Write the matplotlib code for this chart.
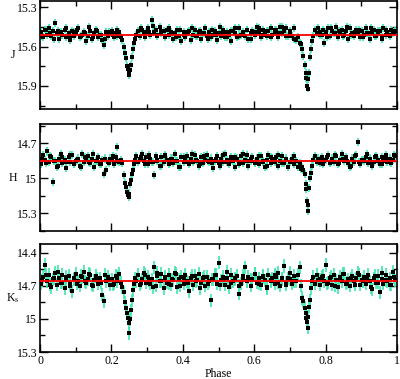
import numpy as np
import matplotlib
matplotlib.use("Agg")
import matplotlib.pyplot as plt
from matplotlib.ticker import MultipleLocator

plt.rcParams['font.family'] = ['Liberation Serif', 'DejaVu Serif']
plt.rcParams['mathtext.fontset'] = 'stix'

# ── phase grid (denser through the eclipses) ──
phase = [
    0.003, 0.008, 0.014, 0.019, 0.025, 0.030, 0.036, 0.041, 0.047,
    0.052, 0.058, 0.063, 0.069, 0.074, 0.080, 0.085, 0.091, 0.096,
    0.102, 0.107, 0.113, 0.118, 0.124, 0.129, 0.135, 0.140, 0.146,
    0.151, 0.157, 0.162, 0.168, 0.173, 0.179, 0.184, 0.190, 0.195,
    0.201, 0.206, 0.212, 0.217, 0.222, 0.227, 0.231, 0.235, 0.238, 0.241, 0.244, 0.246, 0.248,
    0.250, 0.252, 0.254, 0.257, 0.260, 0.263, 0.266, 0.270, 0.275, 0.280, 0.285, 0.291, 0.296,
    0.302, 0.307, 0.313, 0.318, 0.324, 0.329, 0.335, 0.340, 0.346,
    0.351, 0.357, 0.362, 0.368, 0.373, 0.379, 0.384, 0.390, 0.395,
    0.402, 0.407, 0.413, 0.418, 0.424, 0.429, 0.435, 0.440, 0.446,
    0.451, 0.457, 0.462, 0.468, 0.473, 0.479, 0.484, 0.490, 0.495,
    0.502, 0.507, 0.513, 0.518, 0.524, 0.529, 0.535, 0.540, 0.546,
    0.551, 0.557, 0.562, 0.568, 0.573, 0.579, 0.584, 0.590, 0.595,
    0.602, 0.607, 0.613, 0.618, 0.624, 0.629, 0.635, 0.640, 0.646,
    0.651, 0.657, 0.662, 0.668, 0.673, 0.679, 0.684, 0.690, 0.695,
    0.701, 0.706, 0.712, 0.717, 0.722, 0.727, 0.731, 0.735, 0.738, 0.741, 0.744, 0.746, 0.748,
    0.750, 0.752, 0.754, 0.757, 0.760, 0.763, 0.766, 0.770, 0.775, 0.780, 0.785, 0.791, 0.796,
    0.802, 0.807, 0.813, 0.818, 0.824, 0.829, 0.835, 0.840, 0.846,
    0.851, 0.857, 0.862, 0.868, 0.873, 0.879, 0.884, 0.890, 0.895,
    0.902, 0.907, 0.913, 0.918, 0.924, 0.929, 0.935, 0.940, 0.946,
    0.951, 0.957, 0.962, 0.968, 0.973, 0.979, 0.984, 0.990, 0.995,
]

mag_J = [
    15.49, 15.53, 15.47, 15.51, 15.46, 15.52, 15.48, 15.42, 15.50,
    15.54, 15.49, 15.51, 15.47, 15.53, 15.50, 15.55, 15.48, 15.52,
    15.50, 15.46, 15.53, 15.51, 15.49, 15.56, 15.52, 15.48, 15.54,
    15.50, 15.47, 15.53, 15.51, 15.55, 15.59, 15.49, 15.52, 15.50,
    15.48, 15.53, 15.50, 15.52, 15.49, 15.53, 15.55, 15.60, 15.65, 15.69, 15.75, 15.77, 15.80,
    15.82, 15.78, 15.74, 15.68, 15.62, 15.57, 15.54, 15.51, 15.48, 15.52, 15.47, 15.50, 15.49,
    15.46, 15.51, 15.40, 15.49, 15.47, 15.52, 15.45, 15.50, 15.48,
    15.53, 15.47, 15.51, 15.49, 15.54, 15.50, 15.47, 15.52, 15.56,
    15.49, 15.53, 15.50, 15.48, 15.55, 15.51, 15.47, 15.52, 15.49,
    15.54, 15.50, 15.46, 15.52, 15.49, 15.53, 15.51, 15.48, 15.55,
    15.50, 15.52, 15.47, 15.53, 15.49, 15.51, 15.56, 15.48, 15.50,
    15.53, 15.46, 15.51, 15.49, 15.52, 15.47, 15.54, 15.50, 15.48,
    15.51, 15.45, 15.49, 15.53, 15.47, 15.50, 15.52, 15.48, 15.46,
    15.51, 15.49, 15.47, 15.53, 15.45, 15.50, 15.48, 15.46, 15.52,
    15.48, 15.52, 15.46, 15.55, 15.53, 15.57, 15.58, 15.62, 15.67, 15.74, 15.80, 15.84, 15.90,
    15.92, 15.85, 15.80, 15.68, 15.62, 15.56, 15.52, 15.47, 15.50, 15.46, 15.49, 15.51, 15.57,
    15.49, 15.46, 15.52, 15.48, 15.50, 15.45, 15.53, 15.49, 15.47,
    15.51, 15.48, 15.54, 15.46, 15.50, 15.52, 15.47, 15.49, 15.53,
    15.48, 15.51, 15.46, 15.50, 15.54, 15.49, 15.47, 15.52, 15.50,
    15.48, 15.53, 15.46, 15.51, 15.49, 15.52, 15.47, 15.50, 15.48,
]

mag_H = [
    14.88, 14.80, 14.84, 14.77, 14.86, 14.82, 15.03, 14.85, 14.90,
    14.83, 14.79, 14.87, 14.84, 14.91, 14.82, 14.86, 14.80, 14.88,
    14.85, 14.83, 14.89, 14.79, 14.86, 14.84, 14.81, 14.87, 14.83,
    14.90, 14.85, 14.82, 14.88, 14.84, 14.96, 14.93, 14.86, 14.83,
    14.84, 14.88, 14.82, 14.73, 14.86, 14.84, 14.87, 14.97, 15.04, 15.07, 15.12, 15.14, 15.16,
    15.13, 15.05, 15.01, 14.96, 14.93, 14.88, 14.84, 14.81, 14.86, 14.83, 14.79, 14.85, 14.82,
    14.88, 14.83, 14.86, 14.97, 14.81, 14.85, 14.89, 14.82, 14.86,
    14.80, 14.84, 14.88, 14.83, 14.87, 14.79, 14.85, 14.90, 14.82,
    14.86, 14.84, 14.81, 14.88, 14.83, 14.86, 14.80, 14.85, 14.89,
    14.82, 14.87, 14.84, 14.80, 14.86, 14.83, 14.91, 14.85, 14.81,
    14.87, 14.83, 14.86, 14.79, 14.84, 14.88, 14.82, 14.85, 14.90,
    14.83, 14.86, 14.81, 14.87, 14.84, 14.80, 14.89, 14.85, 14.82,
    14.86, 14.83, 14.88, 14.81, 14.85, 14.90, 14.84, 14.80, 14.87,
    14.83, 14.86, 14.82, 14.89, 14.85, 14.81, 14.87, 14.84, 14.90,
    14.86, 14.83, 14.88, 14.85, 14.90, 14.87, 14.92, 14.90, 14.93, 14.96, 15.05, 15.09, 15.19,
    15.28, 15.23, 15.08, 15.00, 14.95, 14.89, 14.84, 14.81, 14.86, 14.83, 14.87, 14.82, 14.85,
    14.84, 14.80, 14.87, 14.83, 14.86, 14.81, 14.88, 14.84, 14.79,
    14.85, 14.82, 14.87, 14.90, 14.83, 14.86, 14.80, 14.69, 14.88,
    14.84, 14.85, 14.82, 14.87, 14.83, 14.89, 14.86, 14.81, 14.84,
    14.88, 14.82, 14.85, 14.80, 14.86, 14.83, 14.87, 14.84, 14.81,
]

mag_K = [
    14.68, 14.62, 14.51, 14.66, 14.60, 14.71, 14.64, 14.58, 14.69,
    14.63, 14.67, 14.60, 14.72, 14.65, 14.61, 14.68, 14.75, 14.63,
    14.59, 14.66, 14.70, 14.62, 14.57, 14.67, 14.64, 14.60, 14.69,
    14.65, 14.61, 14.68, 14.63, 14.78, 14.84, 14.66, 14.62, 14.69,
    14.64, 14.68, 14.61, 14.66, 14.59, 14.67, 14.71, 14.76, 14.85, 14.90, 14.95, 14.99, 15.04,
    15.13, 15.00, 14.92, 14.83, 14.74, 14.68, 14.63, 14.66, 14.60, 14.69, 14.64, 14.58, 14.67,
    14.62, 14.68, 14.64, 14.53, 14.70, 14.61, 14.66, 14.59, 14.72,
    14.63, 14.67, 14.60, 14.69, 14.65, 14.58, 14.71, 14.64, 14.62,
    14.68, 14.60, 14.66, 14.75, 14.63, 14.69, 14.61, 14.65, 14.59,
    14.67, 14.63, 14.70, 14.62, 14.66, 14.83, 14.64, 14.60, 14.68,
    14.49, 14.65, 14.62, 14.69, 14.63, 14.71, 14.60, 14.66, 14.64,
    14.61, 14.77, 14.68, 14.63, 14.53, 14.66, 14.62, 14.70, 14.64,
    14.59, 14.67, 14.63, 14.69, 14.61, 14.65, 14.72, 14.60, 14.66,
    14.63, 14.68, 14.62, 14.58, 14.70, 14.64, 14.52, 14.67, 14.63,
    14.64, 14.68, 14.61, 14.66, 14.60, 14.53, 14.70, 14.81, 14.84, 14.90, 14.95, 14.99, 15.03,
    15.08, 14.98, 14.89, 14.83, 14.72, 14.66, 14.62, 14.68, 14.60, 14.65, 14.69, 14.62, 14.66,
    14.51, 14.67, 14.63, 14.69, 14.60, 14.65, 14.71, 14.62, 14.66,
    14.59, 14.68, 14.64, 14.70, 14.61, 14.66, 14.63, 14.58, 14.69,
    14.65, 14.62, 14.68, 14.60, 14.66, 14.73, 14.63, 14.67, 14.61,
    14.76, 14.64, 14.68, 14.60, 14.66, 14.63, 14.69, 14.57, 14.65,
]

# second batch of nights (out of eclipse only)
phase2 = [
    0.005, 0.017, 0.028, 0.039, 0.050, 0.061, 0.072, 0.083, 0.094,
    0.105, 0.116, 0.127, 0.138, 0.149, 0.160, 0.171, 0.182, 0.193,
    0.204, 0.215, 0.283, 0.294, 0.305, 0.316, 0.327, 0.338, 0.349,
    0.360, 0.371, 0.382, 0.393, 0.404, 0.415, 0.426, 0.437, 0.448,
    0.459, 0.470, 0.481, 0.492, 0.503, 0.514, 0.525, 0.536, 0.547,
    0.558, 0.569, 0.580, 0.591, 0.602, 0.613, 0.624, 0.635, 0.646,
    0.657, 0.668, 0.679, 0.690, 0.701, 0.712, 0.783, 0.794, 0.805,
    0.816, 0.827, 0.838, 0.849, 0.860, 0.871, 0.882, 0.893, 0.904,
    0.915, 0.926, 0.937, 0.948, 0.959, 0.970, 0.981, 0.992,
]

mag_J2 = [
    15.52, 15.47, 15.50, 15.54, 15.48, 15.51, 15.46, 15.53, 15.49,
    15.47, 15.52, 15.50, 15.45, 15.53, 15.48, 15.51, 15.54, 15.49,
    15.51, 15.47, 15.46, 15.53, 15.49, 15.44, 15.51, 15.48, 15.52,
    15.46, 15.50, 15.53, 15.47, 15.51, 15.49, 15.46, 15.52, 15.48,
    15.50, 15.54, 15.47, 15.51, 15.45, 15.49, 15.53, 15.48, 15.46,
    15.52, 15.50, 15.47, 15.54, 15.49, 15.46, 15.51, 15.48, 15.53,
    15.47, 15.50, 15.45, 15.52, 15.49, 15.54, 15.51, 15.47, 15.53,
    15.46, 15.50, 15.48, 15.52, 15.45, 15.51, 15.49, 15.47, 15.53,
    15.50, 15.46, 15.52, 15.48, 15.54, 15.47, 15.51, 15.49,
]

mag_H2 = [
    14.83, 14.87, 14.81, 14.85, 14.89, 14.82, 14.86, 14.80, 14.88,
    14.84, 14.90, 14.82, 14.86, 14.79, 14.85, 14.88, 14.83, 14.87,
    14.81, 14.85, 14.82, 14.88, 14.80, 14.86, 14.84, 14.89, 14.81,
    14.87, 14.83, 14.85, 14.90, 14.82, 14.86, 14.79, 14.84, 14.88,
    14.81, 14.85, 14.87, 14.83, 14.89, 14.80, 14.86, 14.84, 14.82,
    14.88, 14.79, 14.85, 14.83, 14.87, 14.81, 14.86, 14.89, 14.82,
    14.84, 14.80, 14.87, 14.83, 14.86, 14.81, 14.84, 14.88, 14.82,
    14.86, 14.80, 14.87, 14.83, 14.85, 14.89, 14.81, 14.86, 14.84,
    14.79, 14.87, 14.82, 14.85, 14.88, 14.83, 14.86, 14.80,
]

mag_K2 = [
    14.65, 14.60, 14.69, 14.63, 14.57, 14.67, 14.62, 14.70, 14.64,
    14.68, 14.61, 14.66, 14.59, 14.70, 14.63, 14.67, 14.60, 14.65,
    14.69, 14.62, 14.67, 14.60, 14.65, 14.71, 14.58, 14.66, 14.62,
    14.68, 14.64, 14.59, 14.70, 14.63, 14.67, 14.61, 14.66, 14.72,
    14.62, 14.68, 14.64, 14.60, 14.69, 14.65, 14.57, 14.67, 14.63,
    14.70, 14.61, 14.66, 14.64, 14.59, 14.68, 14.62, 14.71, 14.65,
    14.60, 14.67, 14.63, 14.69, 14.58, 14.66, 14.64, 14.61, 14.68,
    14.62, 14.70, 14.65, 14.59, 14.67, 14.63, 14.69, 14.60, 14.66,
    14.64, 14.71, 14.61, 14.67, 14.58, 14.65, 14.69, 14.62,
]

# typical photometric errors and mean out-of-eclipse levels
err_J, err_H, err_K = 0.03, 0.035, 0.06
mean_J, mean_H, mean_K = 15.515, 14.85, 14.66

BANDS = [
    ("J", mag_J, mag_J2, err_J, mean_J, (16.076, 15.252),
     [15.3, 15.6, 15.9], ["15.3", "15.6", "15.9"]),
    ("H", mag_H, mag_H2, err_H, mean_H, (15.45, 14.535),
     [14.7, 15.0, 15.3], ["14.7", "15", "15.3"]),
    (r"K$_{\rm s}$", mag_K, mag_K2, err_K, mean_K, (15.30, 14.32),
     [14.4, 14.7, 15.0, 15.3], ["14.4", "14.7", "15", "15.3"]),
]

# axes boxes in figure fractions: [left, bottom, width, height]
BOXES = [
    [0.100, 0.7124, 0.8925, 0.2850],
    [0.100, 0.3905, 0.8925, 0.2823],
    [0.100, 0.0712, 0.8925, 0.2850],
]

fig = plt.figure(figsize=(4.0, 3.79), dpi=100)

for i, ((name, mag, mag2, err, mean, ylim, yt, ytl), box) in enumerate(zip(BANDS, BOXES)):
    ax = fig.add_axes(box)
    for ph, mg in ((phase, mag), (phase2, mag2)):
        ax.errorbar(ph, mg, yerr=err, fmt='none', ecolor='#3ce6a8',
                    elinewidth=1.2, capsize=0, zorder=2)
    for ph, mg in ((phase, mag), (phase2, mag2)):
        ax.plot(ph, mg, 's', color='black', ms=2.3, mew=0, zorder=3)
    ax.axhline(mean, color='red', lw=1.3, zorder=4)

    ax.set_xlim(0, 1)
    ax.set_ylim(*ylim)
    ax.set_yticks(yt)
    ax.set_yticklabels(ytl)
    ax.yaxis.set_minor_locator(MultipleLocator(0.15))
    ax.xaxis.set_major_locator(MultipleLocator(0.2))
    ax.xaxis.set_minor_locator(MultipleLocator(0.1))
    ax.tick_params(which='both', direction='in', top=True, right=True,
                   labelsize=8.5, width=1.0, pad=2)
    ax.tick_params(which='major', length=5.5)
    ax.tick_params(which='minor', length=3.5)
    for sp in ax.spines.values():
        sp.set_linewidth(1.2)

    ax.set_ylabel(name, fontsize=8.5, rotation=0, labelpad=4, va='center')
    ax.yaxis.set_label_coords(-0.075, 0.5)

    if i < 2:
        ax.set_xticklabels([])
    else:
        ax.set_xticks([0, 0.2, 0.4, 0.6, 0.8, 1.0])
        ax.set_xticklabels(["0", "0.2", "0.4", "0.6", "0.8", "1"])
        ax.set_xlabel("Phase", fontsize=8.5, labelpad=1)

fig.savefig("out.png", dpi=100)
